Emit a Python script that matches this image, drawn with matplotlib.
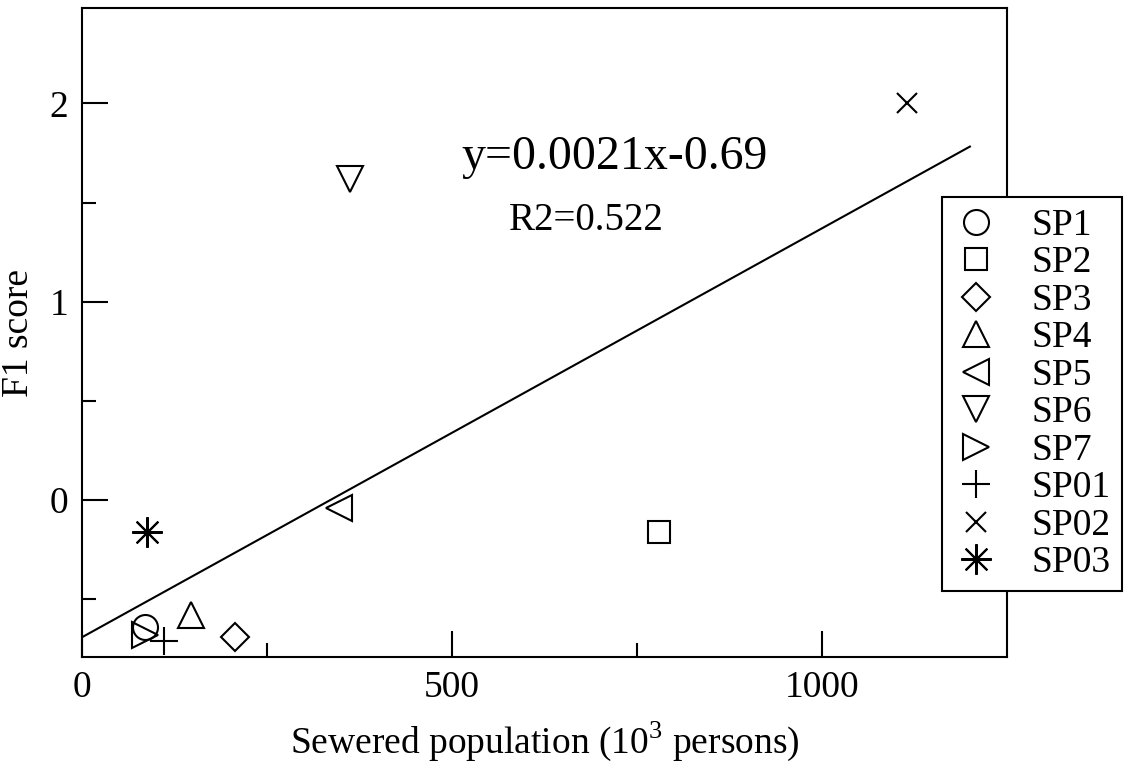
import matplotlib
matplotlib.use('Agg')
import matplotlib.pyplot as plt
import numpy as np

plt.rcParams['font.family'] = ['Liberation Serif', 'DejaVu Serif']
plt.rcParams['mathtext.fontset'] = 'custom'
plt.rcParams['mathtext.rm'] = 'Liberation Serif'

# site data
sites = ['SP1', 'SP2', 'SP3', 'SP4', 'SP5', 'SP6', 'SP7', 'SP01', 'SP02', 'SP03']
markers = ['o', 's', 'D', '^', '<', 'v', '>', '+', 'x', (8, 2, 0)]
marker_sizes = [18, 16.5, 14, 19, 19, 19, 19, 20, 15, 22]
sewered_pop = [85, 780, 207, 147, 347, 362, 85, 110, 1115, 88]
f1_score = [-0.64, -0.16, -0.69, -0.58, -0.04, 1.62, -0.68, -0.71, 2.0, -0.16]

# regression line
slope = 0.00206
intercept = -0.69
fit_x = np.array([0, 1200])

fig = plt.figure(figsize=(11.25, 7.68), dpi=100)
ax = fig.add_axes([0.073, 0.1445, 0.822, 0.845])

ax.plot(fit_x, slope * fit_x + intercept, color='black', lw=1.5)

for name, m, ms, x, y in zip(sites, markers, marker_sizes, sewered_pop, f1_score):
    ax.plot([x], [y], linestyle='none', marker=m, markersize=ms,
            markerfacecolor='none', markeredgecolor='black',
            markeredgewidth=1.5, label=name)

ax.text(512, 1.73, 'y=0.0021x-0.69', fontsize=34.5, va='center', ha='left')
ax.text(577, 1.41, 'R2=0.522', fontsize=28, va='center', ha='left')

ax.set_xlim(0, 1250)
ax.set_ylim(-0.79, 2.48)
ax.set_xticks([0, 500, 1000])
ax.set_xticks([250, 750], minor=True)
ax.set_yticks([0, 1, 2])
ax.set_yticks([-0.5, 0.5, 1.5], minor=True)
ax.tick_params(which='both', direction='in', width=1.5, labelsize=27,
               top=False, right=False)
ax.tick_params(which='major', length=19)
ax.tick_params(which='minor', length=10)
ax.tick_params(axis='x', pad=10)
ax.tick_params(axis='y', pad=10)
for s in ax.spines.values():
    s.set_linewidth(1.5)

ax.set_xlabel('Sewered population (10$^{3}$ persons)', fontsize=27, labelpad=10)
ax.set_ylabel('F1 score', fontsize=27, labelpad=10)

leg = ax.legend(loc='upper left', bbox_to_anchor=(0.8373, 0.7435),
                bbox_transform=fig.transFigure, fontsize=27,
                frameon=True, fancybox=False, edgecolor='black',
                framealpha=1, borderaxespad=0, labelspacing=0.08,
                handletextpad=0.9, handlelength=1.2, borderpad=0.3)
leg.get_frame().set_linewidth(1.5)

fig.savefig('out.png', dpi=100)
